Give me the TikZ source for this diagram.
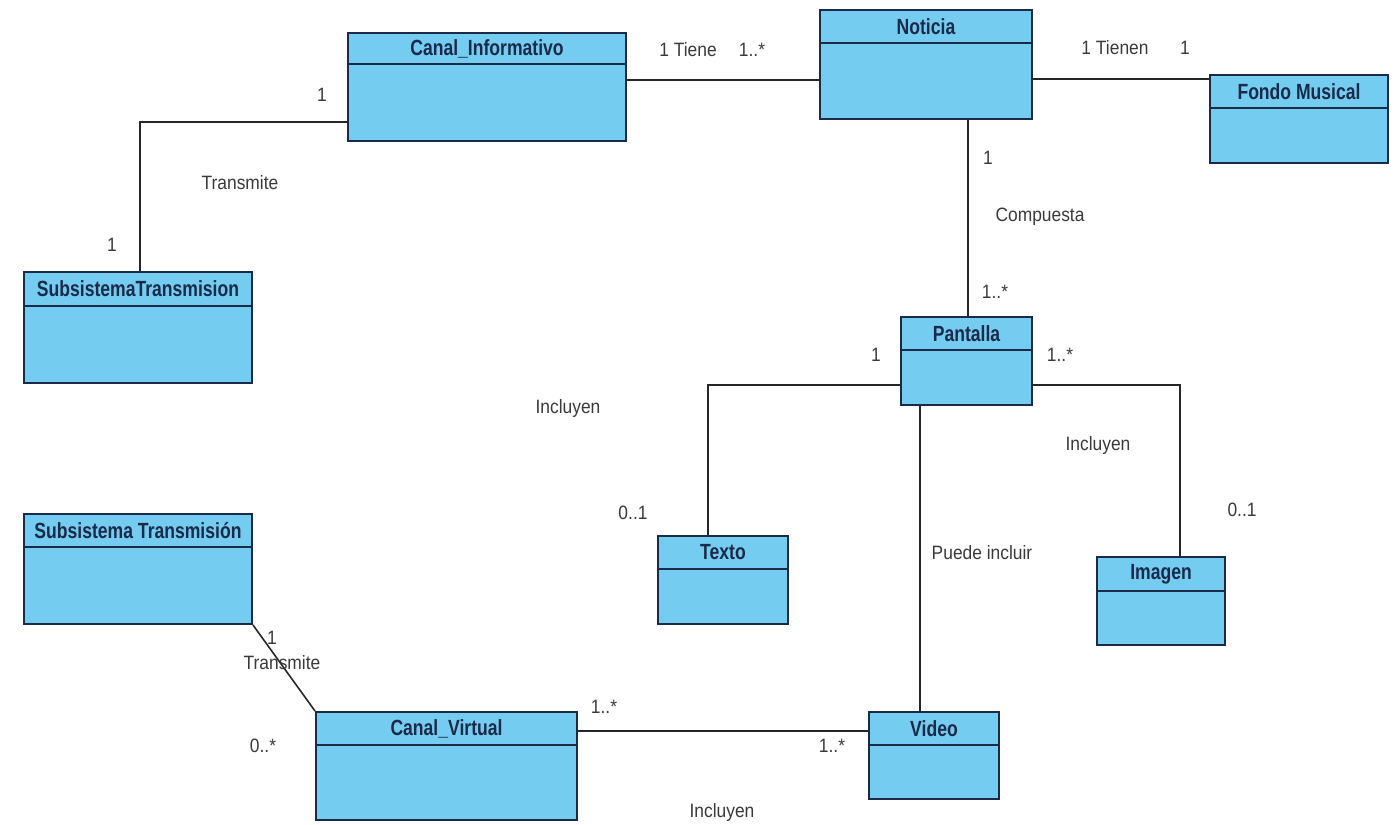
\documentclass[tikz,border=0pt]{standalone}
\usepackage{fontspec}
\setmainfont{Liberation Sans}
\newfontfamily\lblfont{Liberation Sans}[FakeStretch=0.9]
\newfontfamily\ttlfont{Liberation Sans}[FakeStretch=0.8]
\usetikzlibrary{fit,calc}
\definecolor{clsfill}{HTML}{74CCF1}
\definecolor{clsedge}{HTML}{1B2A48}
\definecolor{lbltext}{HTML}{3A3A3A}
\tikzset{
  clsbox/.style={draw=clsedge, fill=clsfill, line width=1.1pt, inner sep=0pt, rectangle},
  clsrule/.style={draw=clsedge, line width=1.1pt},
  clstitle/.style={font=\ttlfont\bfseries\fontsize{12.5}{14}\selectfont, text=clsedge, inner sep=0pt},
  assoc/.style={draw=black!85, line width=0.9pt},
  lbl/.style={font=\lblfont\fontsize{11}{13}\selectfont, text=lbltext, inner sep=0pt},
}
% class box: name, x1, y1, x2, y2, header rule y, title
\newcommand\umlclass[7]{%
  \node[clsbox, fit={(#2,#3) (#4,#5)}] (#1) {};
  \draw[clsrule] (#2,#6) -- (#4,#6);
  \node[clstitle] (#1-title) at ({(#2+#4)/2},{(#3+#6)/2}) {#7};
}
\begin{document}
\begin{tikzpicture}[x=0.02cm, y=-0.02cm]
\useasboundingbox[fill=white] (0,0) rectangle (1397,825);

% classes
\umlclass{ci}{348}{33}{626}{141}{64}{Canal\_Informativo}
\umlclass{nt}{820}{10}{1032}{119}{43}{Noticia}
\umlclass{fm}{1210}{75}{1388}{163}{108}{Fondo Musical}
\umlclass{st}{24}{272}{252}{383}{306}{SubsistemaTransmision}
\umlclass{pan}{901}{317}{1032}{405}{350}{Pantalla}
\umlclass{txt}{658}{536}{788}{624}{569}{Texto}
\umlclass{img}{1097}{557}{1225}{645}{591}{Imagen}
\umlclass{vid}{869}{712}{999}{799}{745}{Video}
\umlclass{sta}{24}{514}{252}{624}{547}{Subsistema Transmisión}
\umlclass{cv}{316}{712}{577}{820}{745}{Canal\_Virtual}

% associations
\draw[assoc] ($(ci.east)+(0,-7)$) coordinate (c1) -- (c1 -| nt.west);
\draw[assoc] ($(nt.east)+(0,14.5)$) coordinate (c2) -- (c2 -| fm.west);
\draw[assoc] ($(ci.west)+(0,35)$) -| ($(st.north)+(2,0)$);
\draw[assoc] ($(nt.south)+(42,0)$) coordinate (c3) -- (c3 |- pan.north);
\draw[assoc] ($(pan.west)+(0,24)$) -| ($(txt.north)+(-15,0)$);
\draw[assoc] ($(pan.east)+(0,24)$) -| ($(img.north)+(19,0)$);
\draw[assoc] ($(pan.south)+(-46.5,0)$) coordinate (c4) -- (c4 |- vid.north);
\draw[assoc] ($(cv.east)+(0,-35)$) coordinate (c5) -- (c5 -| vid.west);
\draw[assoc] (sta.south east) -- (cv.north west);

% multiplicities and role names
\node[lbl] (l1) at (688,50) {1 Tiene};
\node[lbl] (l2) at (752,50) {1..*};
\node[lbl] (l3) at (1115,48) {1 Tienen};
\node[lbl] (l4) at (1185,48) {1};
\node[lbl] (l5) at (322,95) {1};
\node[lbl] (l6) at (240,183) {Transmite};
\node[lbl] (l7) at (112,245) {1};
\node[lbl] (l8) at (988,158) {1};
\node[lbl] (l9) at (1040,217) {Compuesta};
\node[lbl] (l10) at (995,292) {1..*};
\node[lbl] (l11) at (876,355) {1};
\node[lbl] (l12) at (1060,355) {1..*};
\node[lbl] (l13) at (568,408) {Incluyen};
\node[lbl] (l14) at (1098,445) {Incluyen};
\node[lbl] (l15) at (633,513) {0..1};
\node[lbl] (l16) at (1242,510) {0..1};
\node[lbl] (l17) at (982,553) {Puede incluir};
\node[lbl] (l18) at (272,638) {1};
\node[lbl] (l19) at (282,663) {Transmite};
\node[lbl] (l20) at (263,746) {0..*};
\node[lbl] (l21) at (604,707) {1..*};
\node[lbl] (l22) at (832,746) {1..*};
\node[lbl] (l23) at (722,812) {Incluyen};
\end{tikzpicture}
\end{document}
